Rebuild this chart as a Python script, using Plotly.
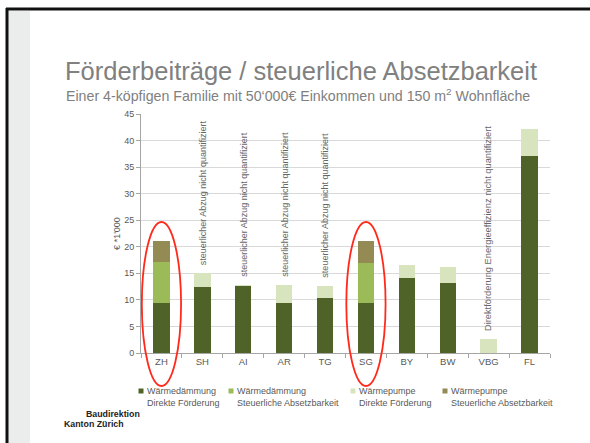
"""Förderbeiträge / steuerliche Absetzbarkeit - stacked bar chart."""

import plotly.graph_objects as go

# Data (€ '1000)
kantone = ["ZH", "SH", "AI", "AR", "TG", "SG", "BY", "BW", "VBG", "FL"]
waermedaemmung_direkt = [9.4, 12.5, 12.7, 9.4, 10.4, 9.4, 14.2, 13.2, 0.0, 37.0]
waermedaemmung_steuer = [7.7, 0.0, 0.0, 0.0, 0.0, 7.6, 0.0, 0.0, 0.0, 0.0]
waermepumpe_direkt = [0.0, 2.5, 0.1, 3.4, 2.2, 0.0, 2.4, 2.9, 2.65, 5.2]
waermepumpe_steuer = [3.9, 0.0, 0.0, 0.0, 0.0, 4.0, 0.0, 0.0, 0.0, 0.0]
y_ticks = [0, 5, 10, 15, 20, 25, 30, 35, 40, 45]

hinweis_abzug = "steuerlicher Abzug nicht quantifiziert"
hinweis_vbg = "Direktförderung Energieeffizienz nicht quantifiziert"
hinweise = [("SH", hinweis_abzug), ("AI", hinweis_abzug), ("AR", hinweis_abzug),
            ("TG", hinweis_abzug), ("VBG", hinweis_vbg)]
markiert = ["ZH", "SG"]

W, H = 590, 443
ML, MR, MT, MB = 141, 40, 114, 90
PW, PH = W - ML - MR, H - MT - MB
FONT = "Liberation Sans, Arial, sans-serif"
GREY = "#595959"


def px(x):
    """page pixel x -> paper coordinate"""
    return (x - ML) / PW


def py(y):
    """page pixel y -> paper coordinate"""
    return (H - MB - y) / PH


series = [
    ("Wärmedämmung<br>Direkte Förderung", waermedaemmung_direkt, "#4F6228"),
    ("Wärmedämmung<br>Steuerliche Absetzbarkeit", waermedaemmung_steuer, "#9BBB59"),
    ("Wärmepumpe<br>Direkte Förderung", waermepumpe_direkt, "#D7E4BD"),
    ("Wärmepumpe<br>Steuerliche Absetzbarkeit", waermepumpe_steuer, "#948A54"),
]

fig = go.Figure()

for name, values, color in series:
    fig.add_trace(
        go.Bar(
            x=kantone,
            y=values,
            name=name.replace("<br>", " "),
            marker=dict(color=color, line=dict(width=0)),
            showlegend=False,
        )
    )

# legend drawn by hand (small squares close to the text, like the slide)
legend_x = [141, 231, 353, 445]
for (name, _, color), lx in zip(series, legend_x):
    fig.add_shape(type="rect", xref="paper", yref="paper",
                  x0=px(lx - 2.5), x1=px(lx + 2.5), y0=py(393.5), y1=py(388.5),
                  fillcolor=color, line_width=0)
    fig.add_annotation(
        xref="paper", yref="paper", x=px(lx + 4), y=py(396.5),
        xanchor="left", yanchor="middle", align="left",
        text=name, showarrow=False,
        font=dict(size=9, color=GREY, family=FONT),
    )

totals = [a + b + c + d for a, b, c, d in zip(waermedaemmung_direkt, waermedaemmung_steuer,
                                              waermepumpe_direkt, waermepumpe_steuer)]

for kanton, text in hinweise:
    i = kantone.index(kanton)
    fig.add_annotation(
        x=kanton,
        y=totals[i],
        text=text,
        textangle=-90,
        showarrow=False,
        xanchor="center",
        yanchor="bottom",
        yshift=6,
        font=dict(size=9.3 if kanton == "VBG" else 9, color="#666666", family=FONT),
    )

# red ellipses
for kanton in markiert:
    i = kantone.index(kanton)
    fig.add_shape(
        type="circle",
        xref="x",
        yref="paper",
        x0=i - 0.48,
        x1=i + 0.48,
        y0=py(386),
        y1=py(222),
        line=dict(color="#FF2A1A", width=1.8),
    )

# slide frame
fig.add_shape(type="rect", xref="paper", yref="paper", x0=px(8), x1=px(30),
              y0=py(H + 5), y1=py(11), fillcolor="#EBEDEC", line_width=0, layer="below")
fig.add_shape(type="line", xref="paper", yref="paper", x0=px(6), x1=px(W + 5),
              y0=py(9), y1=py(9), line=dict(color="#111111", width=3))
fig.add_shape(type="line", xref="paper", yref="paper", x0=px(7), x1=px(7),
              y0=py(8), y1=py(H + 5), line=dict(color="#111111", width=3))

# titles
fig.add_annotation(
    xref="paper", yref="paper", x=px(63), y=py(71), xanchor="left", yanchor="middle",
    text="Förderbeiträge / steuerliche Absetzbarkeit", showarrow=False,
    font=dict(size=25.5, color="#808080", family=FONT),
)
fig.add_annotation(
    xref="paper", yref="paper", x=px(64), y=py(95), xanchor="left", yanchor="middle",
    text="Einer 4-köpfigen Familie mit 50‘000€ Einkommen und 150 m<sup>2</sup> Wohnfläche",
    showarrow=False, font=dict(size=14.2, color="#808080", family=FONT),
)
# logo text
fig.add_annotation(
    xref="paper", yref="paper", x=px(84), y=py(414), xanchor="left", yanchor="middle",
    text="<b>Baudirektion</b>", showarrow=False,
    font=dict(size=8.8, color="#222222", family=FONT),
)
fig.add_annotation(
    xref="paper", yref="paper", x=px(62), y=py(423.5), xanchor="left", yanchor="middle",
    text="<b>Kanton Zürich</b>", showarrow=False,
    font=dict(size=8.8, color="#222222", family=FONT),
)

fig.update_layout(
    width=W,
    height=H,
    margin=dict(l=ML, r=MR, t=MT, b=MB, autoexpand=False),
    paper_bgcolor="white",
    plot_bgcolor="white",
    barmode="stack",
    bargap=0.6,
    showlegend=False,
    font=dict(family=FONT, size=9, color=GREY),
)

fig.update_xaxes(
    type="category",
    range=[-0.5, len(kantone) - 0.5],
    showline=True,
    linecolor="#A6A6A6",
    ticks="outside",
    tickson="boundaries",
    ticklen=4,
    tickcolor="#A6A6A6",
    tickfont=dict(size=9.5, color=GREY),
    showgrid=False,
)
fig.update_yaxes(
    range=[0, 45],
    tickvals=y_ticks,
    showline=True,
    linecolor="#A6A6A6",
    ticks="outside",
    ticklen=4,
    tickcolor="#A6A6A6",
    gridcolor="#D9D9D9",
    tickfont=dict(size=9, color=GREY),
    title=dict(text="€ *1'000", font=dict(size=9, color=GREY), standoff=2),
    zeroline=False,
)

# page body has a default 8px margin; drop it so the figure fills the window
fig.write_html(
    "out.html",
    config={"displayModeBar": False},
    post_script="document.body.style.margin='0';",
)
